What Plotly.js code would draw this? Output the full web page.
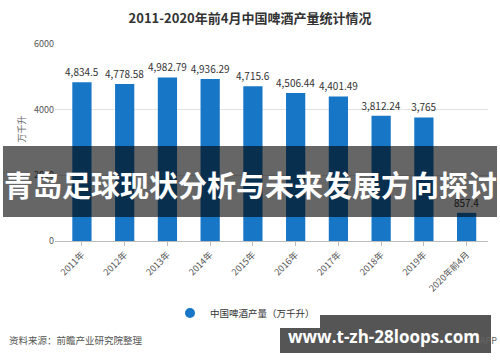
<!DOCTYPE html>
<html>
<head>
<meta charset="utf-8">
<script src="https://cdn.plot.ly/plotly-3.0.1.min.js"></script>
<style>html,body{margin:0;padding:0;background:#fff;}#chart{width:500px;height:362px;}</style>
</head>
<body>
<div id="chart"></div>
<script>
const categories = ["2011年","2012年","2013年","2014年","2015年","2016年","2017年","2018年","2019年","2020年前4月"];
const production = [4834.5, 4778.58, 4982.79, 4936.29, 4715.6, 4506.44, 4401.49, 3812.24, 3765, 857.4];
const valueLabels = ["4,834.5","4,778.58","4,982.79","4,936.29","4,715.6","4,506.44","4,401.49","3,812.24","3,765","857.4"];
const yTicks = [0, 2000, 4000, 6000];
const seriesName = "中国啤酒产量（万千升）";

const FONT = '"Noto Sans CJK SC", "Noto Sans", sans-serif';
const BLUE = "#1776c6";

// plot area in pixels: x 55..488, y 44..241
const L = 55, R = 488, T = 44, B = 241;
const W = R - L, H = B - T;
const px = x => (x - L) / W;
const py = y => (B - y) / H;

const traces = [
  {
    type: "bar",
    x: categories,
    y: production,
    text: valueLabels,
    textposition: "outside",
    constraintext: "none",
    cliponaxis: false,
    textfont: {family: FONT, size: 10, color: "#333"},
    marker: {color: BLUE},
    width: 0.45,
    showlegend: false,
    hoverinfo: "skip"
  },
  {
    type: "scatter",
    mode: "markers",
    x: [null], y: [null],
    name: seriesName,
    marker: {symbol: "circle", size: 10, color: BLUE},
    showlegend: true
  }
];

const layout = {
  width: 500, height: 362,
  margin: {l: L, r: 500 - R, t: T, b: 362 - B, pad: 0},
  paper_bgcolor: "#fff", plot_bgcolor: "#fff",
  font: {family: FONT, color: "#555"},
  title: {
    text: "<b>2011-2020年前4月中国啤酒产量统计情况</b>",
    font: {family: FONT, size: 13, color: "#333"},
    x: 0.5, xanchor: "center", y: 1 - 18/362, yanchor: "middle"
  },
  bargap: 0.55,
  xaxis: {
    type: "category",
    range: [-0.63, 9.5],
    tickangle: -45,
    tickfont: {family: FONT, size: 9, color: "#555"},
    showline: true, linecolor: "#bbb", linewidth: 1,
    ticks: "outside", ticklen: 4, tickcolor: "#bbb",
    showgrid: false, zeroline: false
  },
  yaxis: {
    range: [0, 6000],
    tickvals: yTicks,
    ticktext: yTicks.map(String),
    tickfont: {family: FONT, size: 9, color: "#555"},
    gridcolor: "#e3e3e3", gridwidth: 1,
    zeroline: false, showline: false, ticks: "",
    title: {text: "单位：万千升", font: {family: FONT, size: 9, color: "#666"}, standoff: 6}
  },
  showlegend: true,
  legend: {
    orientation: "h",
    x: px(170), xanchor: "left",
    y: py(313), yanchor: "middle",
    font: {family: FONT, size: 9.5, color: "#333"},
    itemwidth: 30
  },
  shapes: [
    {type: "rect", xref: "paper", yref: "paper", layer: "above",
     x0: px(3), x1: px(497), y0: py(146), y1: py(217),
     fillcolor: "rgba(0,0,0,0.6)", line: {width: 0}},
    {type: "rect", xref: "paper", yref: "paper", layer: "above",
     x0: px(280), x1: px(491), y0: py(315), y1: py(353),
     fillcolor: "rgba(70,70,70,0.92)", line: {width: 0}}
  ],
  annotations: [
    {xref: "paper", yref: "paper", x: px(7), y: py(340), xanchor: "left", yanchor: "middle",
     text: "资料来源：前瞻产业研究院整理", showarrow: false,
     font: {family: FONT, size: 9.5, color: "#555"}},
    {xref: "paper", yref: "paper", x: px(250), y: py(184), xanchor: "center", yanchor: "middle",
     text: "<b>青岛足球现状分析与未来发展方向探讨</b>", showarrow: false,
     font: {family: FONT, size: 29, color: "#fff"}},
    {xref: "paper", yref: "paper", x: px(384), y: py(336), xanchor: "center", yanchor: "middle",
     text: "<b>www.t-zh-28loops.com</b>", showarrow: false,
     font: {family: '"Open Sans", "DejaVu Sans", sans-serif', size: 17, color: "#fff"}},
    {xref: "paper", yref: "paper", x: px(499), y: py(340), xanchor: "right", yanchor: "middle",
     text: "APP", showarrow: false,
     font: {family: FONT, size: 9, color: "#666"}}
  ]
};

Plotly.newPlot("chart", traces, layout, {displayModeBar: false, staticPlot: true});
</script>
</body>
</html>
